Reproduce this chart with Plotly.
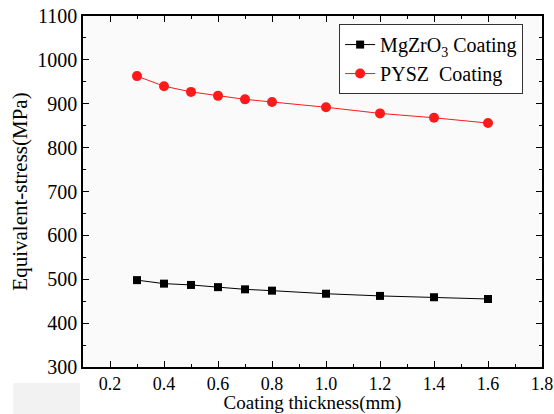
import plotly.graph_objects as go

thickness = [0.3, 0.4, 0.5, 0.6, 0.7, 0.8, 1.0, 1.2, 1.4, 1.6]
mgzro3 = [498, 490, 487, 482, 477, 474, 467, 462, 459, 455]
pysz = [963, 940, 927, 918, 910, 904, 892, 878, 868, 856]
x_ticks = [0.2, 0.4, 0.6, 0.8, 1.0, 1.2, 1.4, 1.6, 1.8]
x_tick_labels = ["0.2", "0.4", "0.6", "0.8", "1.0", "1.2", "1.4", "1.6", "1.8"]

FONT = "Liberation Serif, Times New Roman, serif"

fig = go.Figure()
fig.add_trace(go.Scatter(
    x=thickness, y=mgzro3, mode="lines+markers",
    name="MgZrO<sub>3</sub> Coating",
    line=dict(color="black", width=1),
    marker=dict(symbol="square", size=8, color="black"),
))
fig.add_trace(go.Scatter(
    x=thickness, y=pysz, mode="lines+markers",
    name="PYSZ  Coating",
    line=dict(color="#ff1a1a", width=1),
    marker=dict(symbol="circle", size=10, color="#ff1a1a"),
))

axis_common = dict(
    showline=True, linecolor="black", linewidth=1.5, mirror="ticks",
    showgrid=False, zeroline=False, ticks="inside", ticklen=6, tickwidth=1.2,
    tickcolor="black",
)
minor_common = dict(ticks="inside", ticklen=3, tickcolor="black", tickwidth=1.2)

fig.update_layout(
    width=554, height=414,
    margin=dict(l=83, r=12, t=16, b=47, autoexpand=False),
    paper_bgcolor="white", plot_bgcolor="#fafafa",
    font=dict(family=FONT, color="black", size=19),
    xaxis=dict(
        **axis_common, range=[0.1, 1.8],
        tickmode="array", tickvals=x_ticks, ticktext=x_tick_labels,
        ticklabeloverflow="allow",
        minor=dict(dtick=0.1, tick0=0.1, **minor_common),
        tickfont=dict(size=18, family=FONT),
        title=dict(text="Coating thickness(mm)", font=dict(size=19, family=FONT), standoff=7),
    ),
    yaxis=dict(
        **axis_common, range=[300, 1100], dtick=100,
        minor=dict(dtick=50, **minor_common),
        tickfont=dict(size=20, family=FONT),
        title=dict(text="Equivalent-stress(MPa)", font=dict(size=21, family=FONT), standoff=4),
    ),
    legend=dict(
        x=0.558, y=0.977, xanchor="left", yanchor="top",
        bgcolor="white", bordercolor="#333333", borderwidth=1,
        font=dict(size=20, family=FONT), tracegroupgap=0,
    ),
    shapes=[
        dict(type="rect", xref="paper", yref="paper",
             x0=-0.152, x1=-0.0065, y0=-0.134, y1=-0.0456,
             fillcolor="#f2f2f2", line=dict(width=0), layer="below"),
    ],
    showlegend=True,
)

fig.write_html(
    "out.html",
    config={"displayModeBar": False},
    post_script="document.body.style.margin='0';document.body.style.overflow='hidden';",
)
